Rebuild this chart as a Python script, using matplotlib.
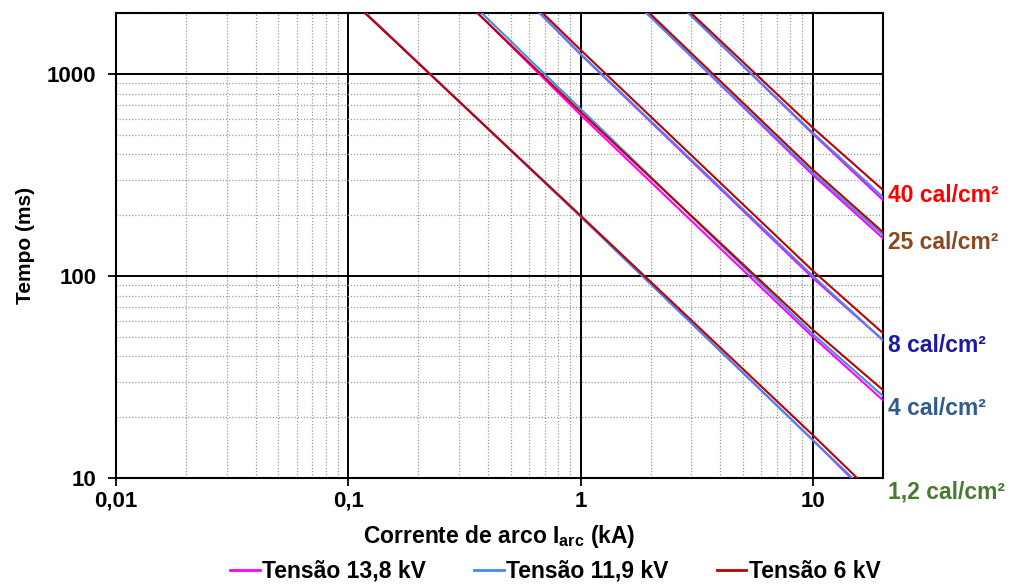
import numpy as np
import matplotlib.pyplot as plt
from matplotlib.ticker import FixedLocator, FixedFormatter, LogLocator, NullFormatter
import matplotlib.transforms as mtransforms

plt.rcParams['font.family'] = ['Liberation Sans', 'DejaVu Sans']
plt.rcParams['mathtext.fontset'] = 'custom'
plt.rcParams['mathtext.rm'] = 'Liberation Sans'
plt.rcParams['mathtext.bf'] = 'Liberation Sans:bold'

# energy levels (labels on the right side)
energias = ['40 cal/cm²', '25 cal/cm²', '8 cal/cm²', '4 cal/cm²', '1,2 cal/cm²']
cores_energia = ['#FF0000', '#8B4A1E', '#1A1AA6', '#2F5C8C', '#4A7A32']
pos_rotulo = [249, 147, 45.5, 22.2, 8.5]

# arc current (kA) and time (ms), order = energias
I_138 = [[2.92, 10, 20], [1.93, 10, 20], [0.667, 1, 10, 20], [0.361, 1, 10, 20], [0.119, 1, 10, 14.6]]
t_138 = [[2000, 505, 238], [2000, 316, 154], [2000, 1250, 97.7, 48.2], [2000, 627, 49.9, 24.3], [2000, 197, 15.4, 10]]

I_119 = [[2.91, 10, 20], [1.92, 10, 20], [0.667, 1, 10, 20], [0.376, 1, 10, 20], [0.119, 1, 10, 14.8]]
t_119 = [[2000, 511, 246], [2000, 323, 160], [2000, 1257, 100, 48.2], [2000, 671, 51.6, 25.5], [2000, 197, 15.4, 10]]

I_6 = [[2.99, 10, 20], [1.98, 10, 20], [0.687, 1, 10, 20], [0.36, 1, 10, 20], [0.118, 1, 10, 15.5]]
t_6 = [[2000, 541, 267], [2000, 335, 165], [2000, 1315, 106, 52.2], [2000, 649, 54.1, 27.3], [2000, 199, 16.3, 10]]

series = [('Tensão 13,8 kV', '#FF00FF', I_138, t_138),
          ('Tensão 11,9 kV', '#3D8EF0', I_119, t_119),
          ('Tensão 6 kV', '#C00000', I_6, t_6)]

fig = plt.figure(figsize=(10.13, 5.84), dpi=100)
ax = fig.add_axes([0.1145, 0.1815, 0.757, 0.796])
ax.set_xscale('log')
ax.set_yscale('log')

for nome, cor, I_list, t_list in series:
    for k, (I, t) in enumerate(zip(I_list, t_list)):
        ax.plot(I, t, color=cor, lw=1.5, label=nome if k == 0 else None, zorder=3)

ax.set_xlim(0.01, 20)
ax.set_ylim(10, 2000)

ax.xaxis.set_major_locator(FixedLocator([0.01, 0.1, 1, 10]))
ax.xaxis.set_major_formatter(FixedFormatter(['0,01', '0,1', '1', '10']))
ax.yaxis.set_major_locator(FixedLocator([10, 100, 1000]))
ax.yaxis.set_major_formatter(FixedFormatter(['10', '100', '1000']))
ax.xaxis.set_minor_locator(LogLocator(base=10, subs=np.arange(2, 10)))
ax.yaxis.set_minor_locator(LogLocator(base=10, subs=np.arange(2, 10)))
ax.xaxis.set_minor_formatter(NullFormatter())
ax.yaxis.set_minor_formatter(NullFormatter())

ax.grid(which='major', color='black', lw=1.4, zorder=1)
ax.grid(which='minor', color='#9A9A9A', lw=0.9, ls=(0, (1, 1.5)), zorder=1)
ax.set_axisbelow(True)
ax.tick_params(which='major', direction='out', length=6, width=1.3, labelsize=16)
ax.tick_params(axis='x', which='major', pad=3)
ax.tick_params(axis='y', which='major', pad=8)
ax.tick_params(which='minor', length=0)
for lbl in ax.get_xticklabels() + ax.get_yticklabels():
    lbl.set_fontweight('bold')
for s in ax.spines.values():
    s.set_linewidth(1.5)

ax.set_ylabel('Tempo (ms)', fontsize=15, fontweight='bold', labelpad=9)
ax.set_xlabel(r'Corrente de arco I$_{\mathbf{arc}}$ (kA)', fontsize=16.5, fontweight='bold', labelpad=8)

trans = mtransforms.blended_transform_factory(ax.transAxes, ax.transData)
for nome, cor, y in zip(energias, cores_energia, pos_rotulo):
    ax.text(1.007, y, nome, transform=trans, color=cor, fontsize=16.5, fontweight='bold',
            va='center', ha='left', clip_on=False)

leg = fig.legend(loc='lower center', bbox_to_anchor=(0.548, -0.033), ncol=3, frameon=False,
                 prop={'size': 16.5, 'weight': 'bold'}, handlelength=1.3, handletextpad=0.1,
                 columnspacing=2.1)
for h in leg.get_lines():
    h.set_linewidth(2)

fig.savefig('out.png', dpi=100)
